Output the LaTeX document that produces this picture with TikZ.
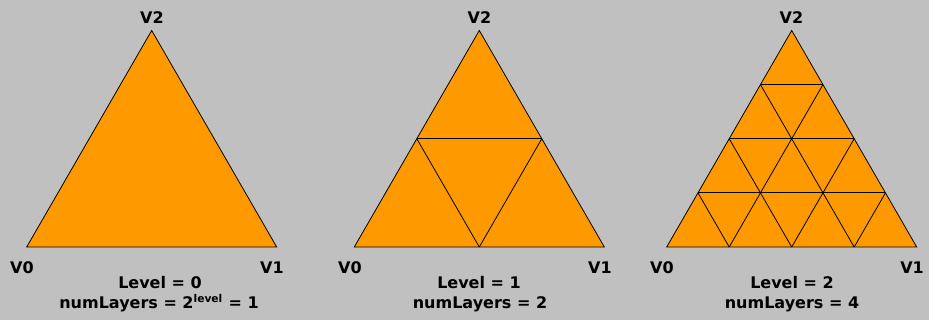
\documentclass[tikz,border=0pt]{standalone}
\usepackage{fontspec}
\setmainfont{DejaVu Sans}
\definecolor{bg}{HTML}{C0C0C0}
\definecolor{orng}{HTML}{FF9900}
\newcommand\mytri[4]{%
  \coordinate (#3V0) at (#1,247);
  \coordinate (#3V1) at ({#1+250},247);
  \coordinate (#3V2) at ({#1+125},30.5);
  \filldraw[tri] (#3V0) -- (#3V1) -- (#3V2) -- cycle;
  \foreach \k in {#4}{%
    \draw[gridline] ({#1+125*\k/#2},{247-216.5*\k/#2}) -- ({#1+250-125*\k/#2},{247-216.5*\k/#2});
    \draw[gridline] ({#1+250*\k/#2},247) -- ({#1+250*\k/#2+125*(#2-\k)/#2},{247-216.5*(#2-\k)/#2});
    \draw[gridline] ({#1+250*\k/#2},247) -- ({#1+125*\k/#2},{247-216.5*\k/#2});
  }%
}
\begin{document}
\begin{tikzpicture}[x=0.75pt,y=-0.75pt,
  lbl/.style={font=\bfseries\fontsize{12}{14}\selectfont, anchor=base, inner sep=0pt},
  tri/.style={fill=orng, draw=black, line width=0.6pt, line join=miter},
  gridline/.style={draw=black, line width=0.6pt}]
\fill[bg] (0,0) rectangle (929,320);
\useasboundingbox (0,0) rectangle (929,320);
\mytri{26.7}{1}{A}{}
\mytri{354.3}{2}{B}{1}
\mytri{666.7}{4}{C}{1,2,3}
% labels triangle 1
\node[lbl] (a2) at (152,23.3) {V2};
\node[lbl] (a0) at (22,273.3) {V0};
\node[lbl] (a1) at (272,273.3) {V1};
\node[lbl] (alev) at (160,288.3) {Level = 0};
\node[lbl] (anum) at (159,308.3) {numLayers = 2\textsuperscript{level} = 1};
% labels triangle 2
\node[lbl] (b2) at (479.5,23.3) {V2};
\node[lbl] (b0) at (350,273.3) {V0};
\node[lbl] (b1) at (600,273.3) {V1};
\node[lbl] (blev) at (479,288.3) {Level = 1};
\node[lbl] (bnum) at (480,308.3) {numLayers = 2};
% labels triangle 3
\node[lbl] (c2) at (791.5,23.3) {V2};
\node[lbl] (c0) at (662,273.3) {V0};
\node[lbl] (c1) at (912,273.3) {V1};
\node[lbl] (clev) at (792,288.3) {Level = 2};
\node[lbl] (cnum) at (792,308.3) {numLayers = 4};
\end{tikzpicture}
\end{document}
